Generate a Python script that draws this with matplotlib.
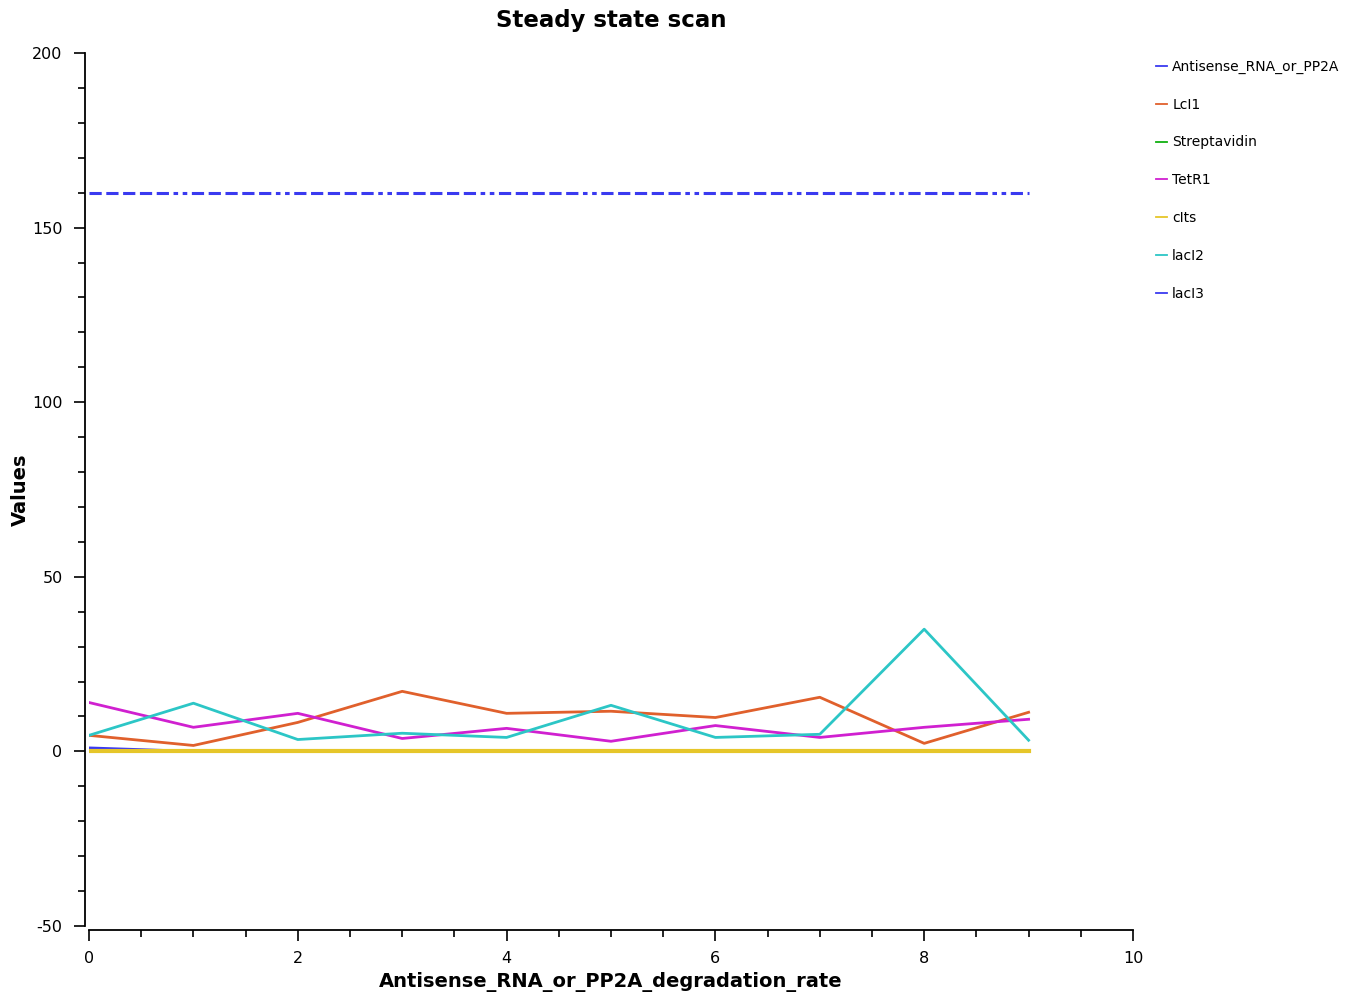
import matplotlib
matplotlib.use("Agg")
import matplotlib.pyplot as plt
from matplotlib.lines import Line2D
from matplotlib.ticker import MultipleLocator

plt.rcParams["axes.unicode_minus"] = False

# scan parameter values
rate = [0, 1, 2, 3, 4, 5, 6, 7, 8, 9]

antisense = [1, 0, 0, 0, 0, 0, 0, 0, 0, 0]
lci1 = [4.6, 1.7, 8.3, 17.2, 10.9, 11.5, 9.7, 15.5, 2.3, 11.2]
streptavidin = [0, 0, 0, 0, 0, 0, 0, 0, 0, 0]
tetr1 = [14.0, 6.9, 10.9, 3.7, 6.6, 2.9, 7.4, 4.0, 6.9, 9.2]
cits = [0, 0, 0, 0, 0, 0, 0, 0, 0, 0]
laci2 = [4.6, 13.8, 3.4, 5.2, 4.0, 13.2, 4.0, 4.9, 35.0, 3.2]
laci3 = [160, 160, 160, 160, 160, 160, 160, 160, 160, 160]

names = ["Antisense_RNA_or_PP2A", "LcI1", "Streptavidin", "TetR1", "cIts", "lacI2", "lacI3"]
colors = ["#3a3af0", "#e0602c", "#10b010", "#d020d0", "#e6c629", "#2cc6c6", "#3a3af0"]

fig = plt.figure(figsize=(13.51, 9.94), dpi=100)
ax = fig.add_axes([89 / 1351, 68 / 994, 1044 / 1351, 873 / 994])

ax.plot(rate, antisense, color=colors[0], lw=2)
ax.plot(rate, streptavidin, color=colors[2], lw=2)
ax.plot(rate, cits, color=colors[4], lw=3)
ax.plot(rate, lci1, color=colors[1], lw=2)
ax.plot(rate, tetr1, color=colors[3], lw=2)
ax.plot(rate, laci2, color=colors[5], lw=2)
ax.plot(rate, laci3, color=colors[6], lw=2.2,
        linestyle=(0, (4, 1.5, 4, 1.5, 4, 1.5, 4, 1.5, 4, 1.5, 1.5, 1.5, 1.5, 1.5)))

ax.set_xlim(0, 10)
ax.set_ylim(-50, 200)
ax.xaxis.set_major_locator(MultipleLocator(2))
ax.xaxis.set_minor_locator(MultipleLocator(0.5))
ax.yaxis.set_major_locator(MultipleLocator(50))
ax.yaxis.set_minor_locator(MultipleLocator(10))

for side in ["top", "right"]:
    ax.spines[side].set_visible(False)
ax.spines["left"].set_position(("outward", 3))
ax.spines["bottom"].set_position(("outward", 3))
ax.spines["left"].set_linewidth(1.3)
ax.spines["bottom"].set_linewidth(1.3)

ax.tick_params(axis="both", which="major", length=8, width=1.2, labelsize=11.5)
ax.tick_params(axis="both", which="minor", length=5, width=1.2)
ax.tick_params(axis="x", pad=7)
ax.tick_params(axis="y", pad=8)

ax.set_title("Steady state scan", fontsize=16.5, fontweight="bold", pad=19)
ax.set_xlabel("Antisense_RNA_or_PP2A_degradation_rate", fontsize=14, fontweight="bold", labelpad=4)
ax.set_ylabel("Values", fontsize=14, fontweight="bold")
ax.yaxis.set_label_coords(-0.057, 0.5)

handles = [Line2D([], [], color=c, lw=1.3) for c in colors]
fig.legend(handles, names, loc="upper left", bbox_to_anchor=(1143 / 1351, 1 - 47 / 994),
           frameon=False, fontsize=10, handlelength=0.8, handletextpad=0.4,
           labelspacing=1.72)

fig.savefig("out.png", dpi=100)
